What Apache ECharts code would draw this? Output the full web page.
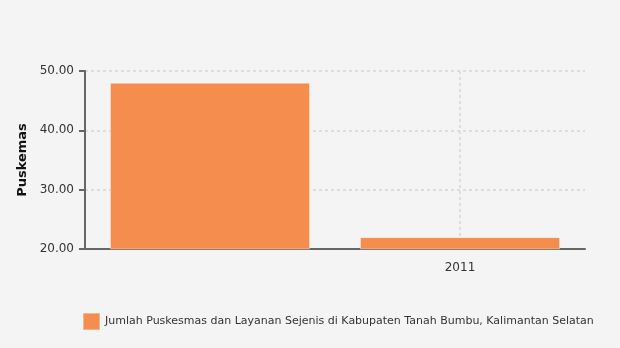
<!DOCTYPE html>
<html><head><meta charset="utf-8">
<script src="https://cdn.jsdelivr.net/npm/echarts@6/dist/echarts.min.js"></script>
<style>html,body{margin:0;padding:0;background:#f4f4f4}#c{width:620px;height:348px}</style>
</head><body><div id="c"></div>
<script>
const categories = ["", "2011"];
const values = [48, 22];
const seriesName = "Jumlah Puskesmas dan Layanan Sejenis di Kabupaten Tanah Bumbu, Kalimantan Selatan";
const yTicks = { min: 20, max: 50, interval: 10 };

const chart = echarts.init(document.getElementById('c'));
const font = "DejaVu Sans";
chart.setOption({
  backgroundColor: '#f4f4f4',
  animation: false,
  textStyle: { fontFamily: font },
  grid: { left: 85, right: 35, top: 71, bottom: 99 },
  legend: {
    left: 77, top: 307, itemWidth: 17, itemHeight: 17, itemGap: 10,
    icon: 'rect',
    textStyle: { fontFamily: font, fontSize: 11, color: '#333' },
    data: [seriesName]
  },
  xAxis: {
    type: 'category', data: categories,
    axisLine: { lineStyle: { color: '#666', width: 2 } },
    axisTick: { alignWithLabel: true, length: 6, lineStyle: { color: '#666', width: 2 }, interval: (i) => i === 1 },
    axisLabel: { color: '#333', fontSize: 12, margin: 13, fontFamily: font },
    splitLine: { show: true, alignWithLabel: true, interval: (i) => i === 1, lineStyle: { color: '#ddd', type: [3, 3], width: 2 } }
  },
  yAxis: {
    type: 'value', min: yTicks.min, max: yTicks.max, interval: yTicks.interval,
    name: 'Puskemas', nameLocation: 'middle', nameGap: 56,
    nameTextStyle: { fontWeight: 'bold', fontSize: 13, color: '#111', fontFamily: font },
    axisLine: { show: true, lineStyle: { color: '#666', width: 2 } },
    axisTick: { show: true, length: 6, lineStyle: { color: '#666', width: 2 } },
    axisLabel: { color: '#333', fontSize: 12, margin: 11, fontFamily: font, formatter: (v) => v.toFixed(2) },
    splitLine: { lineStyle: { color: '#ddd', type: [3, 3], width: 2 } }
  },
  series: [{
    name: seriesName, type: 'bar', data: values, barWidth: '80%',
    itemStyle: { color: '#f58d4e', borderColor: 'rgba(255,255,255,0.35)', borderWidth: 1 }
  }]
});
</script></body></html>
